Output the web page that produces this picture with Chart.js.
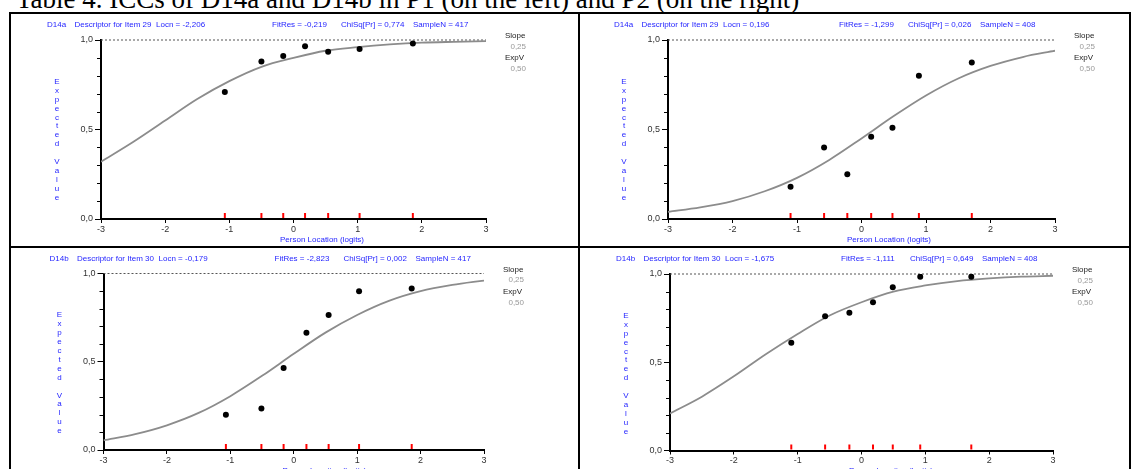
<!DOCTYPE html>
<html>
<head>
<meta charset="utf-8">
<script src="https://cdn.jsdelivr.net/npm/chart.js@4.4.1/dist/chart.umd.min.js"></script>
<style>
  html, body { margin: 0; padding: 0; background: #fff; overflow: hidden; }
  body { width: 1133px; height: 469px; position: relative; }
  #title {
    position: absolute; left: 16px; top: -14px;
    font: 27px "Liberation Serif", "Times New Roman", serif;
    line-height: 27px; white-space: nowrap; color: #000;
  }
  .rule { position: absolute; background: #000; }
  canvas { position: absolute; }
</style>
</head>
<body>
<div id="title">Table 4. ICCs of D14a and D14b in P1 (on the left) and P2 (on the right)</div>

<div class="rule" style="left:9px;top:12px;width:1122px;height:2px"></div>
<div class="rule" style="left:9px;top:12px;width:2px;height:460px"></div>
<div class="rule" style="left:1129px;top:12px;width:2px;height:460px"></div>
<div class="rule" style="left:578px;top:12px;width:2px;height:460px"></div>
<div class="rule" style="left:9px;top:246px;width:1122px;height:2px"></div>

<canvas id="c0" width="566" height="232" style="left:11px;top:14px"></canvas>
<canvas id="c1" width="549" height="232" style="left:580px;top:14px"></canvas>
<canvas id="c2" width="566" height="232" style="left:11px;top:248px"></canvas>
<canvas id="c3" width="549" height="232" style="left:580px;top:248px"></canvas>

<script>
// header info for each panel (top-left, top-right, bottom-left, bottom-right)
const itemCodes = ['D14a', 'D14a', 'D14b', 'D14b'];
const itemNumbers = [29, 29, 30, 30];
const locnValues = ['-2,206', '0,196', '-0,179', '-1,675'];
const fitResValues = ['-0,219', '-1,299', '-2,823', '-1,111'];
const chiSqValues = ['0,774', '0,026', '0,002', '0,649'];
const sampleSizes = [417, 408, 417, 408];
const slopeValue = '0,25';
const expVValue = '0,50';

// axis range and tick labels
const xMin = -3, xMax = 3;
const yTickLabels = { 0: '0,0', 0.5: '0,5', 1: '1,0' };
const yMinorTicks = [0.1, 0.2, 0.3, 0.4, 0.6, 0.7, 0.8, 0.9];
const refLevel = 1.0;

// expected value curves
const curveX = [-3, -2.5, -2, -1.5, -1, -0.5, 0, 0.5, 1, 1.5, 2, 2.5, 3];
const curveP1a = [0.32, 0.43, 0.55, 0.67, 0.77, 0.85, 0.90, 0.94, 0.96, 0.975, 0.985, 0.99, 0.994];
const curveP2a = [0.04, 0.065, 0.10, 0.155, 0.23, 0.33, 0.45, 0.575, 0.69, 0.785, 0.855, 0.905, 0.94];
const curveP1b = [0.055, 0.09, 0.14, 0.21, 0.305, 0.42, 0.545, 0.665, 0.765, 0.845, 0.90, 0.935, 0.96];
const curveP2b = [0.21, 0.305, 0.42, 0.545, 0.66, 0.765, 0.84, 0.90, 0.935, 0.96, 0.975, 0.985, 0.99];

// class interval locations (red ticks) and observed means (dots)
const groupX_P1a = [-1.07, -0.50, -0.16, 0.18, 0.54, 1.03, 1.86];
const groupY_P1a = [0.71, 0.88, 0.91, 0.965, 0.935, 0.95, 0.98];
const groupX_P2a = [-1.10, -0.58, -0.22, 0.15, 0.48, 0.89, 1.71];
const groupY_P2a = [0.18, 0.40, 0.25, 0.46, 0.51, 0.80, 0.875];
const groupX_P1b = [-1.07, -0.51, -0.16, 0.20, 0.55, 1.03, 1.86];
const groupY_P1b = [0.20, 0.235, 0.465, 0.665, 0.765, 0.90, 0.915];
const groupX_P2b = [-1.10, -0.57, -0.19, 0.18, 0.49, 0.92, 1.72];
const groupY_P2b = [0.61, 0.76, 0.78, 0.84, 0.925, 0.985, 0.985];

const curves = [curveP1a, curveP2a, curveP1b, curveP2b];
const groupXs = [groupX_P1a, groupX_P2a, groupX_P1b, groupX_P2b];
const groupYs = [groupY_P1a, groupY_P2a, groupY_P1b, groupY_P2b];

// where each plot area sits inside its canvas: left, right, top, bottom
const areas = [
  [90, 475, 26, 205],
  [88, 475, 26, 205],
  [92.5, 473, 25.5, 202],
  [90, 473, 26, 202.5]
];

const BLUE = '#1f1fff';
const SANS = 'Arial, "Liberation Sans", sans-serif';

// draws the RUMM style extras: headers, red ticks, minor ticks, titles
const panelDecor = {
  id: 'panelDecor',
  afterDraw(chart, args, opts) {
    const i = opts.index;
    const { ctx, chartArea: a, scales: { x, y } } = chart;
    ctx.save();

    // minor y ticks
    ctx.strokeStyle = '#000';
    ctx.lineWidth = 1;
    yMinorTicks.forEach(v => {
      const py = Math.round(y.getPixelForValue(v)) + 0.5;
      ctx.beginPath();
      ctx.moveTo(a.left - 4, py);
      ctx.lineTo(a.left, py);
      ctx.stroke();
    });

    // red person location ticks
    ctx.strokeStyle = '#ff0000';
    ctx.lineWidth = 2;
    groupXs[i].forEach(v => {
      const px = x.getPixelForValue(v);
      ctx.beginPath();
      ctx.moveTo(px, a.bottom - 1);
      ctx.lineTo(px, a.bottom - 6);
      ctx.stroke();
    });

    // header line
    ctx.font = '8px ' + SANS;
    ctx.fillStyle = BLUE;
    ctx.textBaseline = 'middle';
    ctx.textAlign = 'left';
    const hy = a.top - 15;
    const parts = [
      [-54, itemCodes[i]],
      [-26.5, 'Descriptor for Item ' + itemNumbers[i]],
      [55, 'Locn = ' + locnValues[i]],
      [171, 'FitRes = ' + fitResValues[i]],
      [240, 'ChiSq[Pr] = ' + chiSqValues[i]],
      [312, 'SampleN = ' + sampleSizes[i]]
    ];
    parts.forEach(p => ctx.fillText(p[1], a.left + p[0], hy));

    // vertical axis title, one letter per line
    ctx.textAlign = 'center';
    const letters = 'Expected Value'.split('');
    letters.forEach((ch, k) => {
      if (ch !== ' ') ctx.fillText(ch, a.left - 44, a.top + 41.7 + k * 8.9);
    });

    // horizontal axis title
    ctx.fillText('Person Location (logits)', a.left + 221, a.bottom + 20.5);

    // slope / expv box at right
    ctx.textAlign = 'left';
    ctx.fillStyle = '#222';
    ctx.fillText('Slope', a.right + 19, a.top - 4);
    ctx.fillText('ExpV', a.right + 19, a.top + 18);
    ctx.textAlign = 'right';
    ctx.fillStyle = '#999';
    ctx.fillText(slopeValue, a.right + 40, a.top + 6.5);
    ctx.fillText(expVValue, a.right + 40, a.top + 29);

    ctx.restore();
  }
};

function makePanel(i) {
  const canvas = document.getElementById('c' + i);
  const W = canvas.width, H = canvas.height;
  const [L, R, T, B] = areas[i];
  const xh = 20;

  const curveData = curveX.map((v, k) => ({ x: v, y: curves[i][k] }));
  const dotData = groupXs[i].map((v, k) => ({ x: v, y: groupYs[i][k] }));

  new Chart(canvas, {
    type: 'scatter',
    data: {
      datasets: [
        {
          data: dotData,
          backgroundColor: '#000',
          borderWidth: 0,
          pointRadius: 3,
          order: 0
        },
        {
          data: curveData,
          showLine: true,
          borderColor: '#8c8c8c',
          borderWidth: 1.8,
          pointRadius: 0,
          cubicInterpolationMode: 'monotone',
          order: 1
        },
        {
          data: [{ x: xMin, y: refLevel }, { x: xMax, y: refLevel }],
          showLine: true,
          borderColor: '#555',
          borderWidth: 1,
          borderDash: [2, 2],
          pointRadius: 0,
          clip: false,
          order: 2
        }
      ]
    },
    options: {
      responsive: false,
      animation: false,
      events: [],
      devicePixelRatio: 1,
      layout: {
        padding: { left: 0, top: T, right: W - R, bottom: H - B - xh }
      },
      scales: {
        x: {
          type: 'linear',
          min: xMin,
          max: xMax,
          afterFit: s => { s.height = xh; },
          grid: { drawOnChartArea: false, drawTicks: true, tickLength: 4, tickColor: '#000' },
          border: { color: '#000', width: 2 },
          ticks: {
            stepSize: 1,
            maxRotation: 0,
            padding: 1,
            color: '#333',
            font: { family: SANS, size: 9 }
          }
        },
        y: {
          min: 0,
          max: 1,
          afterFit: s => { s.width = L; },
          grid: { drawOnChartArea: false, drawTicks: true, tickLength: 6, tickColor: '#000' },
          border: { color: '#000', width: 2 },
          ticks: {
            stepSize: 0.5,
            padding: 2,
            color: '#333',
            font: { family: SANS, size: 9 },
            callback: v => yTickLabels[v]
          }
        }
      },
      plugins: {
        legend: { display: false },
        tooltip: { enabled: false },
        panelDecor: { index: i }
      }
    },
    plugins: [panelDecor]
  });
}

[0, 1, 2, 3].forEach(makePanel);
</script>
</body>
</html>
